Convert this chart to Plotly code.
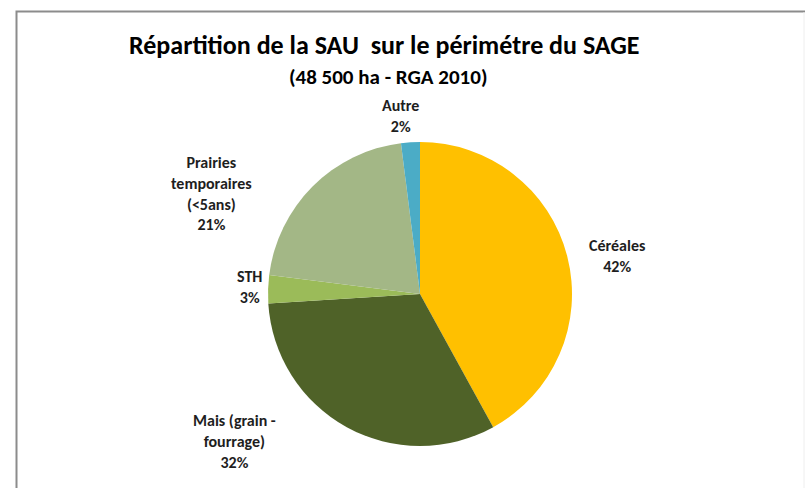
import plotly.graph_objects as go

categories = ["Céréales", "Mais (grain - fourrage)", "STH", "Prairies temporaires (<5ans)", "Autre"]
values = [42, 32, 3, 21, 2]
label_lines = [["Céréales"], ["Mais (grain -", "fourrage)"], ["STH"], ["Prairies", "temporaires", "(<5ans)"], ["Autre"]]
colors = ["#FFC000", "#4F6228", "#9BBB59", "#A3B786", "#4BACC6"]

W, H = 805, 488
FONT = "Carlito, Lato, 'Open Sans', sans-serif"

fig = go.Figure()
fig.add_trace(go.Pie(
    labels=categories, values=values, sort=False, direction="clockwise", rotation=0,
    marker=dict(colors=colors, line=dict(width=0)),
    textinfo="none", hoverinfo="label+percent", showlegend=False,
    domain=dict(x=[268 / W, 572 / W], y=[(H - 446) / H, (H - 142) / H]),
))

# label centres (pixels) for each category, in category order
label_pos = [(617, 256), (234, 441), (249, 287), (211, 194), (400, 116)]
total = sum(values)
annotations = []
for lines, v, (px, py) in zip(label_lines, values, label_pos):
    txt = "<br>".join(lines + [f"{round(100 * v / total)}%"])
    annotations.append(dict(
        x=px / W, y=1 - py / H, xref="paper", yref="paper", text="<b>" + txt + "</b>", showarrow=False,
        xanchor="center", yanchor="middle", align="center",
        font=dict(family=FONT, size=16, color="#1E1E1E"),
    ))

annotations.append(dict(
    x=384 / W, y=1 - 45 / H, xref="paper", yref="paper", showarrow=False,
    text="<b>Répartition de la SAU  sur le périmétre du SAGE</b>",
    xanchor="center", yanchor="middle", font=dict(family=FONT, size=26, color="#000000"),
))
annotations.append(dict(
    x=388 / W, y=1 - 77 / H, xref="paper", yref="paper", showarrow=False,
    text="<b>(48 500 ha - RGA 2010)</b>",
    xanchor="center", yanchor="middle", font=dict(family=FONT, size=21, color="#000000"),
))

fig.update_layout(
    width=W, height=H, margin=dict(l=0, r=0, t=0, b=0),
    paper_bgcolor="white", plot_bgcolor="white",
    annotations=annotations,
    shapes=[
        dict(type="rect", xref="paper", yref="paper", x0=16.5 / W, x1=1.05, y0=-0.05, y1=1 - 11.5 / H,
             line=dict(color="#8C8C8C", width=2), layer="below"),
        dict(type="line", xref="paper", yref="paper", x0=804 / W, x1=804 / W, y0=0, y1=1 - 12 / H,
             line=dict(color="#EEEEEE", width=1), layer="below"),
    ],
)

fig.write_html("out.html", config={"displayModeBar": False},
               post_script="document.body.style.margin='0px';")
